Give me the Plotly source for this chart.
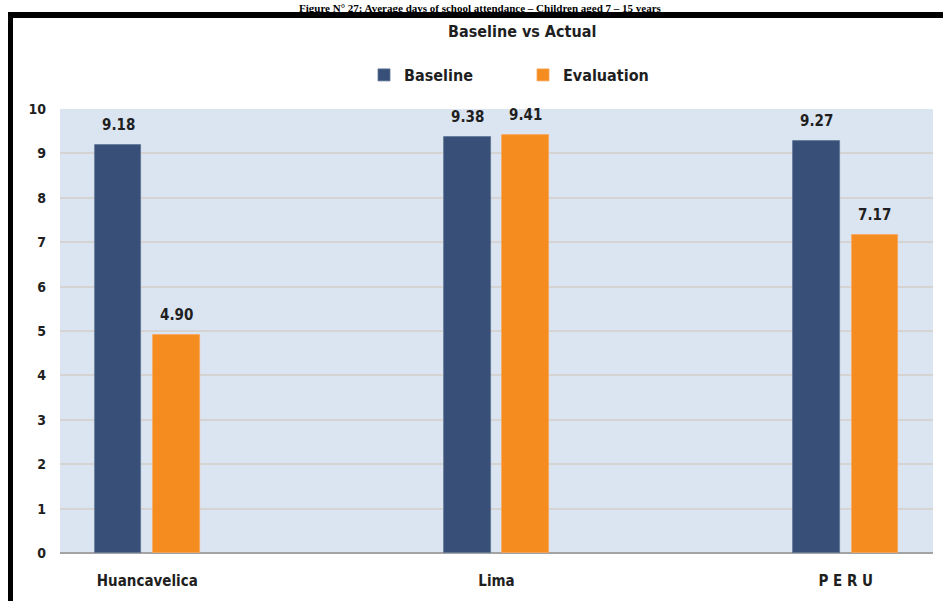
import plotly.graph_objects as go

# Average days of school attendance, children aged 7-15
regions = ["Huancavelica", "Lima", "P E R U"]
baseline = [9.18, 9.38, 9.27]
evaluation = [4.90, 9.41, 7.17]
y_ticks = [0, 1, 2, 3, 4, 5, 6, 7, 8, 9, 10]

W, H = 943, 601
L, R, T, B = 60, 10, 109, 48
plot_w = W - L - R
plot_h = H - T - B
x_range = [-0.25, 2.25]
px_per_cat = plot_w / (x_range[1] - x_range[0])

bar_w = 0.133
off_base = -0.150
off_eval = 0.017

FONT = "Liberation Sans Narrow, DejaVu Sans Condensed, Arial Narrow, Roboto, sans-serif"
TXT = "#1f1f1f"
C_BASE = "#385078"
C_EVAL = "#F58C1F"


def px_x(px):
    return (px - L) / plot_w


def px_y(px):
    return (H - B - px) / plot_h


fig = go.Figure()
fig.add_trace(go.Bar(
    x=regions, y=baseline, name="Baseline",
    marker=dict(color=C_BASE, line=dict(color="#5d7394", width=0.8)),
    width=bar_w, offset=off_base,
))
fig.add_trace(go.Bar(
    x=regions, y=evaluation, name="Evaluation",
    marker=dict(color=C_EVAL, line=dict(color="#f7a65a", width=0.8)),
    width=bar_w, offset=off_eval,
))

# value labels above each bar
annotations = []
for vals, off in ((baseline, off_base), (evaluation, off_eval)):
    shift = (off + bar_w / 2) * px_per_cat
    for cat, v in zip(regions, vals):
        annotations.append(dict(
            x=cat, y=v, xref="x", yref="y", text=f"{v:.2f}",
            showarrow=False, xshift=shift, yshift=9, yanchor="bottom",
            font=dict(family=FONT, size=15, color=TXT, weight="bold"),
        ))

# chart title
annotations.append(dict(
    x=px_x(522), y=px_y(31), xref="paper", yref="paper",
    text="Baseline vs Actual", showarrow=False, xanchor="center", yanchor="middle",
    font=dict(family=FONT, size=16, color=TXT, weight="bold"),
))

# figure caption above the framed chart
annotations.append(dict(
    x=px_x(480), y=px_y(0.5), xref="paper", yref="paper",
    text="Figure N° 27: Average days of school attendance – Children aged 7 – 15 years",
    showarrow=False, xanchor="center", yanchor="top", borderpad=0,
    font=dict(family="Liberation Serif, Times New Roman, serif", size=11, color="#000000", weight="bold"),
))

fig.update_layout(
    width=W, height=H,
    margin=dict(l=L, r=R, t=T, b=B, pad=0),
    paper_bgcolor="white",
    plot_bgcolor="#DBE5F1",
    showlegend=True,
    legend=dict(
        orientation="h", x=px_x(364), y=px_y(75),
        xanchor="left", yanchor="middle",
        font=dict(family=FONT, size=16, color=TXT, weight="bold"),
        itemwidth=30, entrywidth=114, entrywidthmode="pixels",
        tracegroupgap=0, bgcolor="rgba(0,0,0,0)",
    ),
    xaxis=dict(
        type="category", range=x_range, showgrid=False,
        showline=False, ticks="", zeroline=False,
        tickfont=dict(family=FONT, size=15, color=TXT, weight="bold"),
        ticklabelstandoff=17,
    ),
    yaxis=dict(
        range=[0, 10], tickvals=y_ticks, ticktext=[str(t) for t in y_ticks],
        showgrid=True, gridcolor="#D6D3D3", gridwidth=2,
        zeroline=True, zerolinecolor="#A3A3A3", zerolinewidth=2,
        showline=False, ticks="",
        tickfont=dict(family=FONT, size=14, color=TXT, weight="bold"),
        ticklabelstandoff=13,
    ),
    annotations=annotations,
    bargap=0, bargroupgap=0,
)

# black frame around the chart (top and left edges visible)
fig.add_shape(type="line", xref="paper", yref="paper",
              x0=px_x(8), x1=px_x(W + 5), y0=px_y(15), y1=px_y(15),
              line=dict(color="black", width=6))
fig.add_shape(type="line", xref="paper", yref="paper",
              x0=px_x(10.5), x1=px_x(10.5), y0=px_y(12), y1=px_y(H + 5),
              line=dict(color="black", width=5))

fig.write_html("out.html")
